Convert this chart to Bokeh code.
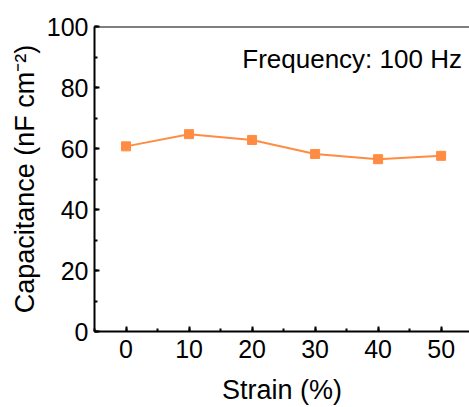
from bokeh.plotting import figure
from bokeh.models import Range1d, SingleIntervalTicker, Span, Label
from bokeh.embed import file_html
from bokeh.resources import INLINE

strain = [0, 10, 20, 30, 40, 50]
capacitance = [60.7, 64.7, 62.8, 58.2, 56.5, 57.6]

FONT = "Liberation Sans"
ORANGE = "#FF8C42"

p = figure(width=469, height=407, output_backend="svg", toolbar_location=None,
           x_range=Range1d(-5, 54.5), y_range=Range1d(0, 100),
           min_border_left=94, min_border_right=0, min_border_top=26, min_border_bottom=75)
p.outline_line_color = None
p.grid.grid_line_color = None
p.background_fill_color = "white"
p.border_fill_color = "white"

p.line(strain, capacitance, line_color=ORANGE, line_width=2)
p.scatter(strain, capacitance, marker="square", size=9, fill_color=ORANGE, line_color=ORANGE)

p.add_layout(Span(location=100, dimension="width", line_color="black", line_width=2))

p.xaxis.ticker = SingleIntervalTicker(interval=10, num_minor_ticks=2)
p.yaxis.ticker = SingleIntervalTicker(interval=20, num_minor_ticks=2)
p.xaxis.axis_label = "Strain (%)"
p.yaxis.axis_label = "Capacitance (nF cm\u207b\u00b2)"

for ax in (p.xaxis, p.yaxis):
    ax.axis_line_width = 2
    ax.axis_line_color = "black"
    ax.major_tick_in = 5
    ax.major_tick_out = 0
    ax.minor_tick_in = 3
    ax.minor_tick_out = 0
    ax.major_tick_line_width = 2
    ax.minor_tick_line_width = 2
    ax.major_label_text_font = FONT
    ax.major_label_text_font_size = "25px"
    ax.major_label_text_color = "black"
    ax.axis_label_text_font = FONT
    ax.axis_label_text_font_size = "27px"
    ax.axis_label_text_font_style = "normal"
    ax.axis_label_text_color = "black"

p.xaxis.major_label_standoff = 8
p.xaxis.axis_label_standoff = 14
p.yaxis.major_label_standoff = 6
p.yaxis.axis_label_standoff = 4

p.add_layout(Label(x=53.3, y=89.2, text="Frequency: 100 Hz", text_font=FONT,
                   text_font_size="26px", text_align="right",
                   text_baseline="alphabetic", text_color="black"))

open("out.html", "w").write(file_html(p, INLINE))
